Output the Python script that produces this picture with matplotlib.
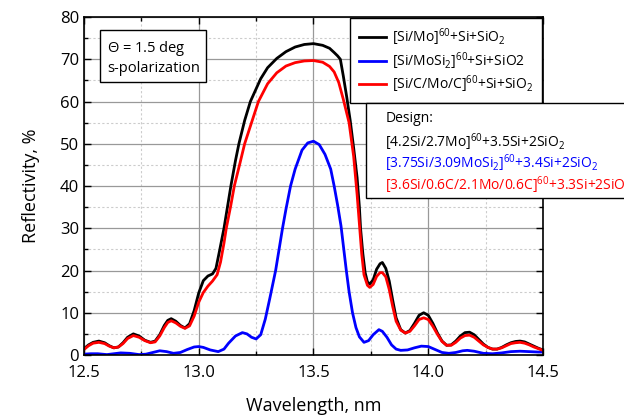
import matplotlib
matplotlib.use("Agg")
import matplotlib.pyplot as plt
from matplotlib.ticker import MultipleLocator

plt.rcParams["font.family"] = ["Open Sans", "DejaVu Sans"]
plt.rcParams["mathtext.default"] = "regular"

# [Si/Mo]60 + Si + SiO2
wl_simo = [12.50, 12.52, 12.54, 12.565, 12.59, 12.61, 12.63, 12.65, 12.67, 12.69,
           12.715, 12.74, 12.765, 12.79, 12.81, 12.83, 12.85, 12.865, 12.88, 12.90,
           12.92, 12.94, 12.96, 12.98, 13.00, 13.02, 13.04, 13.06, 13.075, 13.09,
           13.11, 13.125, 13.14, 13.16, 13.175, 13.20, 13.225, 13.25, 13.27, 13.30,
           13.34, 13.38, 13.42, 13.46, 13.50, 13.54, 13.57, 13.59, 13.605, 13.617,
           13.63, 13.645, 13.66, 13.675, 13.69, 13.70, 13.705, 13.715, 13.725, 13.735,
           13.745, 13.76, 13.775, 13.79, 13.80, 13.815, 13.83, 13.845, 13.86, 13.88,
           13.90, 13.92, 13.94, 13.96, 13.98, 14.00, 14.02, 14.04, 14.06, 14.08,
           14.10, 14.12, 14.14, 14.16, 14.18, 14.20, 14.22, 14.24, 14.26, 14.28,
           14.30, 14.32, 14.34, 14.36, 14.38, 14.40, 14.42, 14.44, 14.46, 14.48,
           14.50]
r_simo = [1.5, 2.4, 3.0, 3.3, 2.9, 2.2, 1.7, 1.9, 2.9, 4.2,
          5.0, 4.5, 3.5, 3.0, 3.3, 4.8, 7.0, 8.2, 8.6, 8.0,
          7.0, 6.4, 7.4, 10.5, 14.7, 17.6, 18.7, 19.2, 20.5, 24.5,
          30.0, 35.0, 40.0, 46.0, 50.0, 55.5, 60.0, 63.0, 65.4, 68.0,
          70.2, 71.8, 72.9, 73.5, 73.7, 73.3, 72.6, 71.6, 70.8, 70.0,
          66.0, 61.0, 55.5, 49.0, 42.0, 35.0, 30.0, 24.0, 19.5, 17.3,
          16.8, 17.8, 20.3, 21.6, 21.9, 20.5, 17.5, 13.0, 8.8, 6.0,
          5.2, 5.8, 7.5, 9.4, 10.0, 9.4, 7.5, 5.2, 3.3, 2.3,
          2.4, 3.3, 4.5, 5.3, 5.4, 4.8, 3.7, 2.6, 1.8, 1.4,
          1.4, 1.8, 2.4, 2.9, 3.2, 3.3, 3.1, 2.6, 2.1, 1.6,
          1.2]

# [Si/MoSi2]60 + Si + SiO2
wl_simosi2 = [12.50, 12.53, 12.56, 12.60, 12.63, 12.66, 12.70, 12.74, 12.77, 12.80,
              12.83, 12.86, 12.89, 12.92, 12.95, 12.98, 13.00, 13.02, 13.05, 13.085,
              13.11, 13.13, 13.16, 13.19, 13.21, 13.23, 13.25, 13.27, 13.29, 13.31,
              13.335, 13.35, 13.365, 13.38, 13.40, 13.42, 13.45, 13.475, 13.50, 13.525,
              13.55, 13.575, 13.59, 13.605, 13.62, 13.632, 13.643, 13.655, 13.67, 13.685,
              13.70, 13.72, 13.74, 13.76, 13.785, 13.80, 13.82, 13.84, 13.86, 13.88,
              13.91, 13.94, 13.97, 14.00, 14.03, 14.06, 14.09, 14.12, 14.15, 14.17,
              14.20, 14.24, 14.28, 14.32, 14.36, 14.40, 14.44, 14.48, 14.50]
r_simosi2 = [0.2, 0.3, 0.3, 0.1, 0.3, 0.5, 0.4, 0.1, 0.2, 0.6,
             1.0, 0.8, 0.4, 0.6, 1.3, 1.9, 2.0, 1.8, 1.2, 0.8,
             1.4, 2.8, 4.5, 5.3, 5.0, 4.2, 3.8, 4.8, 8.5, 13.5,
             20.0, 25.0, 30.0, 34.5, 40.0, 44.0, 48.5, 50.2, 50.6, 49.8,
             47.5, 44.0, 40.0, 35.5, 30.5, 25.0, 20.0, 15.0, 10.0, 6.5,
             4.3, 3.0, 3.4, 4.8, 6.0, 5.6, 4.2, 2.4, 1.4, 1.1,
             1.2, 1.7, 2.1, 2.0, 1.3, 0.6, 0.4, 0.6, 1.0, 1.1,
             0.9, 0.4, 0.3, 0.5, 0.8, 0.9, 0.8, 0.7, 0.7]

# [Si/C/Mo/C]60 + Si + SiO2
wl_sicmoc = [12.50, 12.52, 12.54, 12.565, 12.59, 12.61, 12.63, 12.65, 12.67, 12.69,
             12.715, 12.74, 12.765, 12.79, 12.81, 12.83, 12.85, 12.865, 12.88, 12.90,
             12.92, 12.94, 12.96, 12.98, 13.00, 13.02, 13.04, 13.06, 13.08, 13.095,
             13.11, 13.12, 13.14, 13.155, 13.18, 13.20, 13.23, 13.26, 13.30, 13.34,
             13.38, 13.42, 13.46, 13.50, 13.54, 13.57, 13.59, 13.61, 13.63, 13.655,
             13.675, 13.69, 13.70, 13.71, 13.72, 13.735, 13.745, 13.76, 13.775, 13.79,
             13.80, 13.815, 13.83, 13.845, 13.86, 13.88, 13.90, 13.92, 13.94, 13.96,
             13.98, 14.00, 14.02, 14.04, 14.06, 14.08, 14.10, 14.12, 14.14, 14.16,
             14.18, 14.20, 14.22, 14.24, 14.26, 14.28, 14.30, 14.32, 14.34, 14.36,
             14.38, 14.40, 14.42, 14.44, 14.46, 14.48, 14.50]
r_sicmoc = [1.3, 2.2, 2.8, 3.0, 2.7, 2.1, 1.7, 1.9, 2.7, 3.9,
            4.6, 4.2, 3.4, 2.9, 3.1, 4.5, 6.5, 7.7, 8.1, 7.6,
            6.8, 6.3, 6.9, 9.2, 12.5, 14.8, 16.3, 17.5, 19.0, 22.0,
            26.5, 30.0, 35.5, 40.0, 45.5, 50.0, 55.0, 60.0, 64.2, 66.8,
            68.4, 69.2, 69.6, 69.7, 69.3, 68.3, 67.0, 64.5, 60.5, 55.0,
            47.0, 38.0, 31.0, 24.0, 19.0, 16.5, 16.0, 16.7, 18.6, 19.5,
            19.5, 18.5, 15.5, 11.5, 8.0, 5.9, 5.2, 5.6, 6.9, 8.4,
            8.8, 8.4, 6.8, 4.9, 3.2, 2.3, 2.3, 3.0, 4.0, 4.6,
            4.7, 4.2, 3.3, 2.4, 1.8, 1.4, 1.4, 1.7, 2.2, 2.7,
            2.9, 3.0, 2.8, 2.4, 1.9, 1.5, 1.1]

legend_labels = ["[Si/Mo]$^{60}$+Si+SiO$_{2}$",
                 "[Si/MoSi$_{2}$]$^{60}$+Si+SiO2",
                 "[Si/C/Mo/C]$^{60}$+Si+SiO$_{2}$"]
design_lines = ["[4.2Si/2.7Mo]$^{60}$+3.5Si+2SiO$_{2}$",
                "[3.75Si/3.09MoSi$_{2}$]$^{60}$+3.4Si+2SiO$_{2}$",
                "[3.6Si/0.6C/2.1Mo/0.6C]$^{60}$+3.3Si+2SiO$_{2}$"]
colors = ["black", "blue", "red"]

fig = plt.figure(figsize=(6.24, 4.18), dpi=100)
ax = fig.add_axes([0.1346, 0.1507, 0.7356, 0.8086])

ax.plot(wl_simo, r_simo, color=colors[0], lw=2, label=legend_labels[0])
ax.plot(wl_simosi2, r_simosi2, color=colors[1], lw=2, label=legend_labels[1])
ax.plot(wl_sicmoc, r_sicmoc, color=colors[2], lw=2, label=legend_labels[2])

ax.set_xlim(12.5, 14.5)
ax.set_ylim(0, 80)
ax.xaxis.set_major_locator(MultipleLocator(0.5))
ax.xaxis.set_minor_locator(MultipleLocator(0.25))
ax.yaxis.set_major_locator(MultipleLocator(10))
ax.yaxis.set_minor_locator(MultipleLocator(5))
ax.grid(which="major", color="#999999", lw=0.9, ls="-")
ax.grid(which="minor", color="#cccccc", lw=0.8, ls=(0, (2, 2)))
ax.set_axisbelow(True)
ax.tick_params(which="both", direction="in", top=True, right=True,
               labelsize=12, width=1)
ax.tick_params(which="major", length=5)
ax.tick_params(which="minor", length=3)
ax.tick_params(axis="x", pad=7)
for s in ax.spines.values():
    s.set_linewidth(1.2)

ax.set_xlabel("Wavelength, nm", fontsize=13, labelpad=12)
ax.set_ylabel("Reflectivity, %", fontsize=13, labelpad=14)

leg = ax.legend(loc="upper right", bbox_to_anchor=(1.0, 1.0), fontsize=10,
                fancybox=False, edgecolor="black", framealpha=1,
                handlelength=2.0, handletextpad=0.4, borderaxespad=0.1,
                labelspacing=0.12, borderpad=0.6)
leg.get_frame().set_linewidth(1.0)

ax.text(0.05, 0.935, "$\\Theta$ = 1.5 deg\ns-polarization",
        transform=ax.transAxes, fontsize=10.5, va="top", linespacing=1.25,
        bbox=dict(boxstyle="square,pad=0.45", fc="white", ec="black", lw=1))

# design box, runs off the right edge of the figure as in the source
fig.patches.append(plt.Rectangle((366 / 624, 1 - 198 / 418), 270 / 624, 95 / 418,
                                 transform=fig.transFigure, fc="white",
                                 ec="black", lw=1, zorder=5))
fig.text(386 / 624, 1 - 118 / 418, "Design:", fontsize=10, va="center", zorder=6)
for i, (line, c) in enumerate(zip(design_lines, colors)):
    fig.text(385 / 624, 1 - (142 + i * 21.5) / 418, line, color=c,
             fontsize=10, va="center", zorder=6)

fig.savefig("out.png", dpi=100)
